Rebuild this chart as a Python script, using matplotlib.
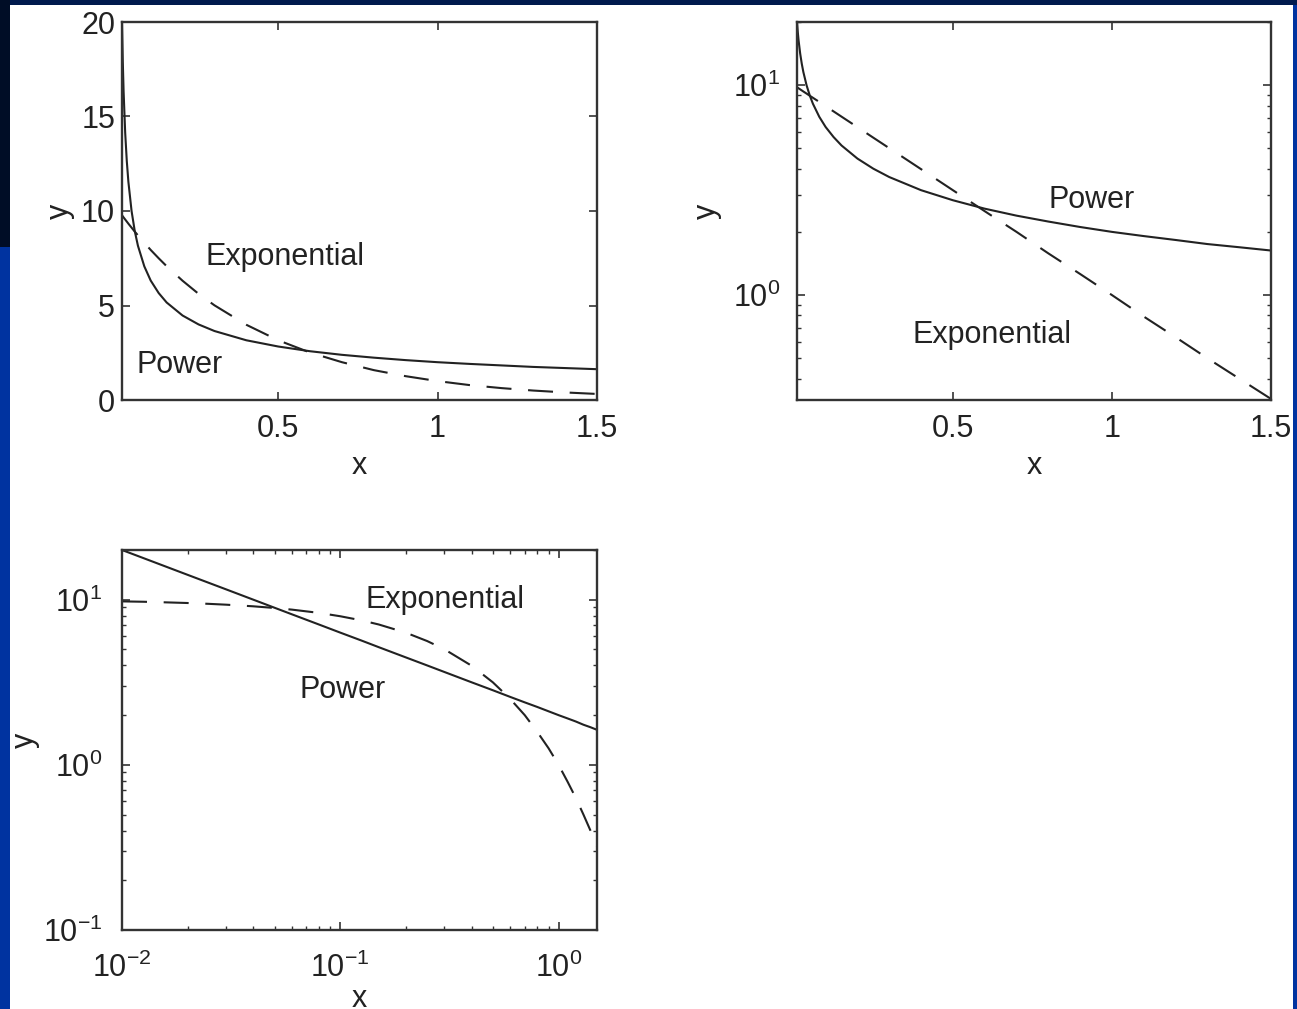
import numpy as np
import matplotlib
matplotlib.use("Agg")
import matplotlib.pyplot as plt
from matplotlib.patches import Rectangle
from matplotlib.ticker import FixedLocator, LogLocator, FuncFormatter, NullFormatter

plt.rcParams['font.family'] = ['Liberation Sans', 'DejaVu Sans']
plt.rcParams['mathtext.default'] = 'regular'

# values (same x samples for both series)
x_vals = [0.01, 0.0125, 0.015, 0.02, 0.025, 0.03, 0.04, 0.05, 0.06, 0.08, 0.1,
          0.125, 0.15, 0.2, 0.25, 0.3, 0.4, 0.5, 0.6, 0.7, 0.8, 0.9, 1.0,
          1.1, 1.2, 1.3, 1.4, 1.5]
power_vals = [20.0, 17.89, 16.33, 14.14, 12.65, 11.55, 10.0, 8.94, 8.16, 7.07, 6.32,
              5.66, 5.16, 4.47, 4.0, 3.65, 3.16, 2.83, 2.58, 2.39, 2.24, 2.11, 2.0,
              1.91, 1.83, 1.75, 1.69, 1.63]
expo_vals = [9.77, 9.72, 9.66, 9.55, 9.44, 9.33, 9.12, 8.91, 8.71, 8.32, 7.94,
             7.50, 7.08, 6.31, 5.62, 5.01, 3.98, 3.16, 2.51, 2.00, 1.58, 1.26, 1.00,
             0.79, 0.63, 0.50, 0.40, 0.32]

lin_xticks = [0.5, 1, 1.5]
lin_xlabels = ['0.5', '1', '1.5']
lin_yticks = [0, 5, 10, 15, 20]

W, H = 1297, 1009
fig = plt.figure(figsize=(W / 100, H / 100), dpi=100)
fig.patch.set_facecolor('#0033a0')


def px_rect(x0, y0, x1, y1, color):
    # rectangle in pixel coords measured from the top-left corner
    r = Rectangle((x0 / W, 1 - y1 / H), (x1 - x0) / W, (y1 - y0) / H,
                  transform=fig.transFigure, facecolor=color, edgecolor='none', zorder=-10)
    fig.add_artist(r)


# slide background: navy top band, dark top-left, white page
px_rect(0, 0, W, 5, '#001a4d')
px_rect(0, 0, 10, 247, '#000d26')
px_rect(10, 5, 1293, H, 'white')


def px_axes(x0, y0, x1, y1):
    return fig.add_axes([x0 / W, 1 - y1 / H, (x1 - x0) / W, (y1 - y0) / H])


INK = '#222222'
FS = 22
LW = 1.5
DASH = (12, 8)


def style(ax, xpad=10, ypad=5):
    for s in ax.spines.values():
        s.set_linewidth(1.7)
        s.set_color('#333333')
    ax.tick_params(which='both', direction='in', top=True, right=True,
                   labelsize=FS, colors='#333333', labelcolor=INK)
    ax.tick_params(which='major', length=6, width=1.2)
    ax.tick_params(which='minor', length=3, width=1.0)
    ax.tick_params(axis='x', which='major', pad=xpad)
    ax.tick_params(axis='y', which='major', pad=ypad)
    ax.set_xlabel('x', fontsize=FS, color=INK, labelpad=5)
    ax.set_ylabel('y', fontsize=FS, color=INK)


def pow10(v, pos):
    return r'$10^{%d}$' % int(round(np.log10(v)))


# --- panel 1: linear axes ---
ax1 = px_axes(122, 22, 597, 400)
ax1.plot(x_vals, power_vals, color=INK, lw=LW)
ax1.plot(x_vals, expo_vals, color=INK, lw=LW, dashes=DASH)
ax1.set_xlim(0.01, 1.5)
ax1.set_ylim(0, 20)
ax1.set_xticks(lin_xticks, lin_xlabels)
ax1.set_yticks(lin_yticks)
style(ax1)
ax1.yaxis.set_label_coords(-0.1, 0.5)
ax1.text(0.343, 0.378, 'Exponential', transform=ax1.transAxes, ha='center', va='center',
         fontsize=FS, color=INK)
ax1.text(0.122, 0.093, 'Power', transform=ax1.transAxes, ha='center', va='center',
         fontsize=FS, color=INK)

# --- panel 2: semilog y ---
ax2 = px_axes(797, 22, 1271, 400)
ax2.plot(x_vals, power_vals, color=INK, lw=LW)
ax2.plot(x_vals, expo_vals, color=INK, lw=LW, dashes=DASH)
ax2.set_yscale('log')
ax2.set_xlim(0.01, 1.5)
ax2.set_ylim(10 ** -0.5, 20)
ax2.set_xticks(lin_xticks, lin_xlabels)
ax2.yaxis.set_major_locator(FixedLocator([1, 10]))
ax2.yaxis.set_major_formatter(FuncFormatter(pow10))
ax2.yaxis.set_minor_locator(LogLocator(base=10, subs=np.arange(2, 10)))
ax2.yaxis.set_minor_formatter(NullFormatter())
style(ax2, ypad=12)
ax2.yaxis.set_label_coords(-0.158, 0.5)
ax2.text(0.622, 0.529, 'Power', transform=ax2.transAxes, ha='center', va='center',
         fontsize=FS, color=INK)
ax2.text(0.411, 0.172, 'Exponential', transform=ax2.transAxes, ha='center', va='center',
         fontsize=FS, color=INK)

# --- panel 3: log-log ---
ax3 = px_axes(122, 550, 597, 930)
ax3.plot(x_vals, power_vals, color=INK, lw=LW)
ax3.plot(x_vals, expo_vals, color=INK, lw=LW, dashes=DASH)
ax3.set_xscale('log')
ax3.set_yscale('log')
ax3.set_xlim(0.01, 1.5)
ax3.set_ylim(0.1, 20)
for axis in (ax3.xaxis, ax3.yaxis):
    axis.set_major_locator(LogLocator(base=10, numticks=10))
    axis.set_major_formatter(FuncFormatter(pow10))
    axis.set_minor_locator(LogLocator(base=10, subs=np.arange(2, 10), numticks=10))
    axis.set_minor_formatter(NullFormatter())
style(ax3, xpad=16, ypad=14)
ax3.yaxis.set_label_coords(-0.173, 0.5)
ax3.xaxis.labelpad = 0
ax3.text(0.68, 0.868, 'Exponential', transform=ax3.transAxes, ha='center', va='center',
         fontsize=FS, color=INK)
ax3.text(0.465, 0.632, 'Power', transform=ax3.transAxes, ha='center', va='center',
         fontsize=FS, color=INK)

fig.savefig('out.png', dpi=100, facecolor=fig.get_facecolor())
